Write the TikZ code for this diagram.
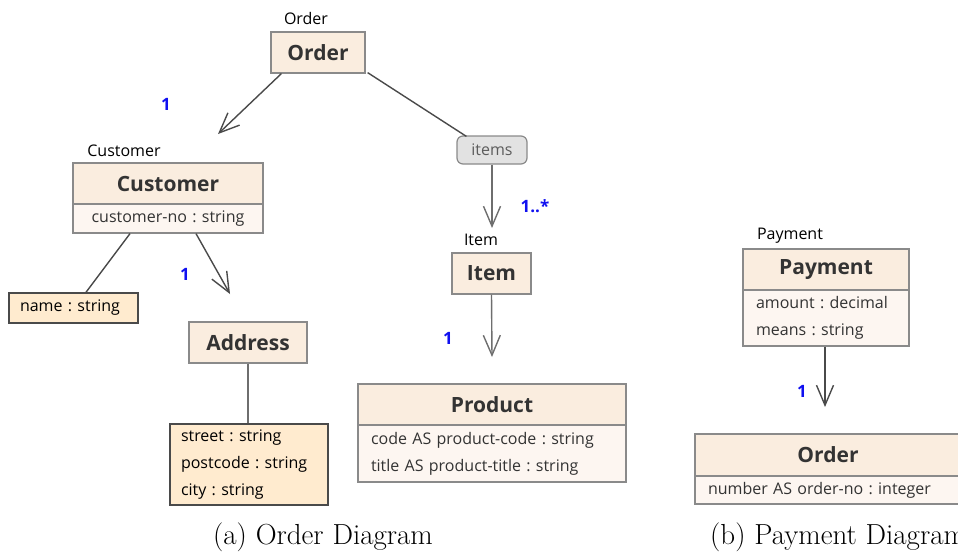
\documentclass[tikz,border=0pt]{standalone}
\usepackage{fontspec}
\setsansfont{Open Sans}
\frenchspacing
\usetikzlibrary{arrows.meta,calc}
\definecolor{hdrfill}{HTML}{FAEDDF}
\definecolor{attrfill}{HTML}{FDF6F1}
\definecolor{valfill}{HTML}{FFEBCF}
\definecolor{boxline}{HTML}{8A8A8A}
\definecolor{conline}{HTML}{4A4A4A}
\definecolor{pillfill}{HTML}{E2E2E2}
\definecolor{multblue}{HTML}{1010F0}
\definecolor{txt}{HTML}{333333}
\tikzset{
  hdr/.style={draw=boxline, line width=1.2pt, fill=hdrfill, inner sep=0pt, minimum height=41pt,
    font=\sffamily\bfseries\fontsize{21}{24}\selectfont, text=txt},
  attr/.style={draw=boxline, line width=1.2pt, fill=attrfill, inner xsep=13pt, inner ysep=0pt,
    align=left, font=\sffamily\fontsize{16}{27}\selectfont, text=txt},
  vals/.style={draw=conline, line width=1.4pt, fill=valfill, inner xsep=11pt, inner ysep=0pt,
    align=left, font=\sffamily\fontsize{16}{27}\selectfont, text=black},
  pill/.style={draw=boxline, line width=1.2pt, fill=pillfill, rounded corners=6pt, inner sep=0pt,
    font=\sffamily\fontsize{16}{18}\selectfont, text=txt!80},
  lbl/.style={font=\sffamily\fontsize{16}{18}\selectfont, text=black, inner sep=0pt},
  mult/.style={font=\sffamily\bfseries\fontsize{17}{19}\selectfont, text=multblue, inner sep=0pt},
  captext/.style={font=\fontsize{29}{32}\selectfont, inner sep=0pt},
  con/.style={draw=conline, line width=1.4pt},
  arr/.style={con, -{Straight Barb[length=20pt,width=17pt,line width=1.4pt]}},
}
\begin{document}
\begin{tikzpicture}[x=1pt,y=-1pt]
\useasboundingbox (0,0) rectangle (958,552);
% Order
\node[lbl] (orderlbl) at (306,18) {Order};
\node[hdr, minimum width=94pt] (order) at (318,52.5) {Order};
% Customer
\node[lbl] (custlbl) at (124,151) {Customer};
\node[hdr, minimum width=190pt] (cust) at (168,183.5) {Customer};
\node[attr, text width=164pt, minimum height=29pt, align=center] (custattr) at (168,218.5) {customer-no : string};
% name
\node[vals, text width=107pt, minimum height=30pt] (name) at (73.5,308) {name : string};
% Address
\node[hdr, minimum width=118pt] (addr) at (248,342.5) {Address};
\node[vals, text width=136pt, minimum height=81pt] (addrattr) at (249,464.5) {street : string\\postcode : string\\city : string};
% items
\node[pill, minimum width=70pt, minimum height=28pt] (items) at (492,150) {items};
% Item
\node[lbl] (itemlbl) at (481,240) {Item};
\node[hdr, minimum width=79pt] (item) at (491.5,273.5) {Item};
% Product
\node[hdr, minimum width=268pt] (prod) at (492,404.5) {Product};
\node[attr, text width=242pt, minimum height=57pt] (prodattr) at (492,453.5) {code AS product-code : string\\title AS product-title : string};
% Payment
\node[lbl] (paylbl) at (790,236) {Payment};
\node[hdr, minimum width=166pt] (pay) at (826,269.5) {Payment};
\node[attr, text width=140pt, minimum height=56pt] (payattr) at (826,318) {amount : decimal\\means : string};
% Order (b)
\node[hdr, minimum width=266pt, minimum height=42pt] (order2) at (828,455) {Order};
\node[attr, text width=240pt, minimum height=28pt] (order2attr) at (828,490) {number AS order-no : integer};
% multiplicities
\node[mult] (m1) at (166,104) {1};
\node[mult] (m2) at (185,274) {1};
\node[mult] (m3) at (535,206) {1..*};
\node[mult] (m4) at (448,338) {1};
\node[mult] (m5) at (802,391) {1};
% free ends
\coordinate (e1) at (218,134);
\coordinate (e2) at (230,294);
\coordinate (e3) at (492,228);
\coordinate (e4) at (492,357);
\coordinate (e5) at (825,407);
% connectors
\draw[arr] ($(order.south west)+(11,0)$) -- (e1);
\draw[con] ($(custattr.south)+(-38,0)$) -- ($(name.north)+(12.5,0)$);
\draw[arr] ($(custattr.south)+(28,0)$) -- (e2);
\draw[con, draw=conline!80] (addr.south) -- (addr.south |- addrattr.north);
\draw[con] ($(order.south east)+(2,-1)$) -- ($(items.north west)+(10,1)$);
\draw[arr, draw=conline!80] (items.south) -- (e3);
\draw[arr, draw=conline!80] (item.south) -- (e4);
\draw[arr] (payattr.south -| e5) -- (e5);
% captions
\node[captext] (capa) at (323,537) {(a) Order Diagram};
\node[captext, anchor=west] (capb) at (710,537) {(b) Payment Diagram};
\end{tikzpicture}
\end{document}
